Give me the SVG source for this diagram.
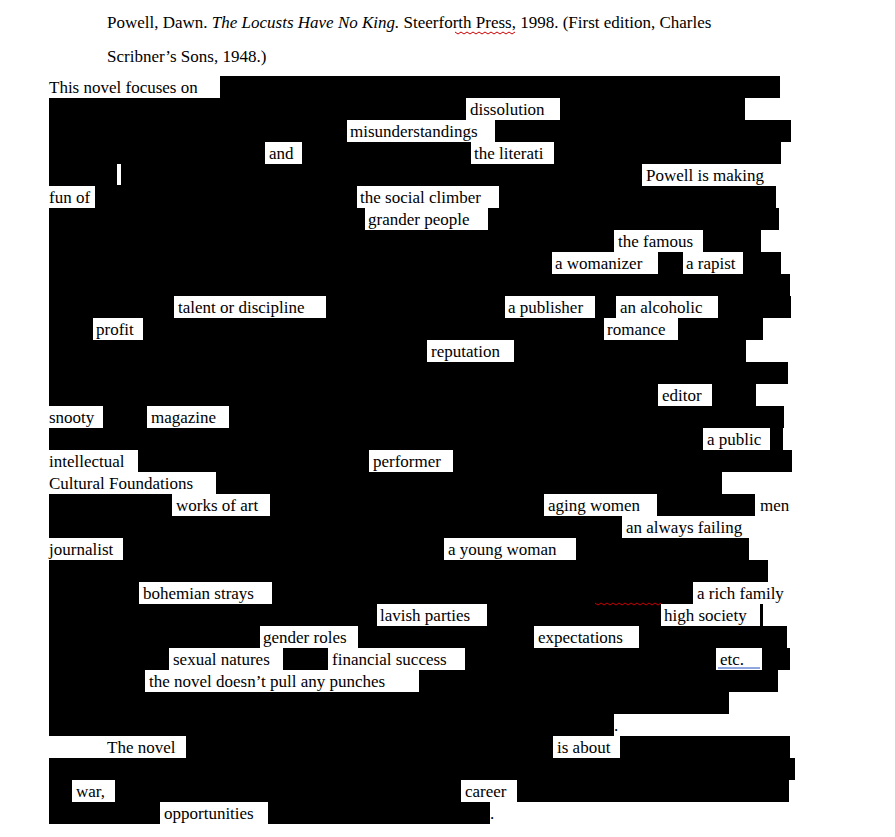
<svg xmlns="http://www.w3.org/2000/svg" width="895" height="837" viewBox="0 0 895 837">
<style>
text{font-family:"Liberation Serif","Times New Roman",serif;font-size:17px;fill:#000}
.b{fill:#000}
.w{fill:#fff}
.sq{fill:none;stroke:#c00;stroke-width:1}
</style>
<rect width="895" height="837" fill="#fff"/>
<g id="header">
<text x="107" y="28">Powell, Dawn. <tspan font-style="italic">The Locusts Have No King.</tspan> Steerforth Press, 1998. (First edition, Charles</text>
<text x="107" y="62">Scribner’s Sons, 1948.)</text>
<path class="sq" d="M455 32 l3 2 l3 -2 l3 2 l3 -2 l3 2 l3 -2 l3 2 l3 -2 l3 2 l3 -2 l3 2 l3 -2 l3 2 l3 -2 l3 2 l3 -2 l3 2 l3 -2 l3 2 l3 -2"/>
</g>
<g id="redactions">
<rect class="b" x="220" y="76" width="560" height="22"/>
<rect class="b" x="49" y="98" width="696" height="22"/>
<rect class="b" x="49" y="120" width="742" height="22"/>
<rect class="b" x="49" y="142" width="732" height="22"/>
<rect class="b" x="49" y="164" width="593" height="22"/>
<rect class="w" x="117" y="164" width="4" height="21"/>
<rect class="b" x="95" y="186" width="681" height="22"/>
<rect class="b" x="49" y="208" width="730" height="22"/>
<rect class="b" x="49" y="230" width="712" height="22"/>
<rect class="b" x="49" y="252" width="732" height="22"/>
<rect class="b" x="49" y="274" width="741" height="22"/>
<rect class="b" x="49" y="296" width="742" height="22"/>
<rect class="b" x="49" y="318" width="714" height="22"/>
<rect class="b" x="49" y="340" width="697" height="22"/>
<rect class="b" x="49" y="362" width="739" height="22"/>
<rect class="b" x="49" y="384" width="707" height="22"/>
<rect class="b" x="103" y="406" width="681" height="22"/>
<rect class="b" x="49" y="428" width="654" height="22"/>
<rect class="b" x="770" y="428" width="13" height="22"/>
<rect class="b" x="138" y="450" width="654" height="22"/>
<rect class="b" x="216" y="472" width="506" height="22"/>
<rect class="b" x="49" y="494" width="706" height="22"/>
<rect class="b" x="49" y="516" width="709" height="22"/>
<rect class="b" x="123" y="538" width="626" height="22"/>
<rect class="b" x="49" y="560" width="719" height="22"/>
<rect class="b" x="49" y="582" width="644" height="22"/>
<rect class="b" x="49" y="604" width="714" height="22"/>
<rect class="b" x="49" y="626" width="738" height="22"/>
<rect class="b" x="49" y="648" width="741" height="22"/>
<rect class="b" x="49" y="670" width="729" height="22"/>
<rect class="b" x="49" y="692" width="680" height="22"/>
<rect class="b" x="49" y="714" width="565" height="22"/>
<rect class="b" x="186" y="736" width="367" height="22"/>
<rect class="b" x="620" y="736" width="170" height="22"/>
<rect class="b" x="49" y="758" width="746" height="22"/>
<rect class="b" x="49" y="780" width="740" height="22"/>
<rect class="b" x="49" y="802" width="441" height="22"/>
</g>
<g id="labels">
<rect class="w" x="466" y="98" width="94" height="22"/>
<rect class="w" x="347" y="120" width="148" height="22"/>
<rect class="w" x="265" y="142" width="37" height="22"/>
<rect class="w" x="471" y="142" width="83" height="22"/>
<rect class="w" x="357" y="186" width="142" height="22"/>
<rect class="w" x="365" y="208" width="123" height="22"/>
<rect class="w" x="614" y="230" width="89" height="22"/>
<rect class="w" x="552" y="252" width="106" height="22"/>
<rect class="w" x="683" y="252" width="60" height="22"/>
<rect class="w" x="174" y="296" width="152" height="22"/>
<rect class="w" x="505" y="296" width="90" height="22"/>
<rect class="w" x="616" y="296" width="102" height="22"/>
<rect class="w" x="93" y="318" width="50" height="22"/>
<rect class="w" x="604" y="318" width="74" height="22"/>
<rect class="w" x="427" y="340" width="87" height="22"/>
<rect class="w" x="658" y="384" width="54" height="22"/>
<rect class="w" x="147" y="406" width="82" height="22"/>
<rect class="w" x="369" y="450" width="84" height="22"/>
<rect class="w" x="172" y="494" width="98" height="22"/>
<rect class="w" x="544" y="494" width="113" height="22"/>
<rect class="w" x="622" y="516" width="136" height="22"/>
<rect class="w" x="444" y="538" width="132" height="22"/>
<rect class="w" x="139" y="582" width="133" height="22"/>
<rect class="w" x="377" y="604" width="110" height="22"/>
<rect class="w" x="661" y="604" width="99" height="22"/>
<rect class="w" x="260" y="626" width="98" height="22"/>
<rect class="w" x="534" y="626" width="105" height="22"/>
<rect class="w" x="169" y="648" width="114" height="22"/>
<rect class="w" x="328" y="648" width="137" height="22"/>
<rect class="w" x="716" y="648" width="46" height="22"/>
<rect class="w" x="145" y="670" width="274" height="22"/>
<rect class="w" x="72" y="780" width="43" height="22"/>
<rect class="w" x="461" y="780" width="56" height="22"/>
<rect class="w" x="160" y="802" width="108" height="22"/>
<text x="49" y="93">This novel focuses on</text>
<text x="470" y="115">dissolution</text>
<text x="350" y="137">misunderstandings</text>
<text x="269" y="159">and</text>
<text x="474" y="159">the literati</text>
<text x="646" y="181">Powell is making</text>
<text x="49" y="203">fun of</text>
<text x="360" y="203">the social climber</text>
<text x="368" y="225">grander people</text>
<text x="618" y="247">the famous</text>
<text x="555" y="269">a womanizer</text>
<text x="686" y="269">a rapist</text>
<text x="178" y="313">talent or discipline</text>
<text x="508" y="313">a publisher</text>
<text x="620" y="313">an alcoholic</text>
<text x="96" y="335">profit</text>
<text x="607" y="335">romance</text>
<text x="431" y="357">reputation</text>
<text x="662" y="401">editor</text>
<text x="49" y="423">snooty</text>
<text x="151" y="423">magazine</text>
<text x="707" y="445">a public</text>
<text x="49" y="467">intellectual</text>
<text x="373" y="467">performer</text>
<text x="49" y="489">Cultural Foundations</text>
<text x="176" y="511">works of art</text>
<text x="548" y="511">aging women</text>
<text x="760" y="511">men</text>
<text x="626" y="533">an always failing</text>
<text x="49" y="555">journalist</text>
<text x="448" y="555">a young woman</text>
<text x="143" y="599">bohemian strays</text>
<text x="697" y="599">a rich family</text>
<path class="sq" d="M595 603 l3 2 l3 -2 l3 2 l3 -2 l3 2 l3 -2 l3 2 l3 -2 l3 2 l3 -2 l3 2 l3 -2 l3 2 l3 -2 l3 2 l3 -2 l3 2 l3 -2 l3 2 l3 -2 l3 2 l3 -2"/>
<text x="380" y="621">lavish parties</text>
<text x="664" y="621">high society</text>
<text x="263" y="643">gender roles</text>
<text x="538" y="643">expectations</text>
<text x="173" y="665">sexual natures</text>
<text x="332" y="665">financial success</text>
<text x="720" y="665">etc.</text>
<line x1="718" y1="668" x2="760" y2="668" stroke="#1f4fbf" stroke-width="1"/>
<text x="149" y="687">the novel doesn’t pull any punches</text>
<text x="614" y="731">.</text>
<text x="107" y="753">The novel</text>
<text x="557" y="753">is about</text>
<text x="76" y="797">war,</text>
<text x="465" y="797">career</text>
<text x="164" y="819">opportunities</text>
<text x="490" y="819">.</text>
</g>
</svg>
